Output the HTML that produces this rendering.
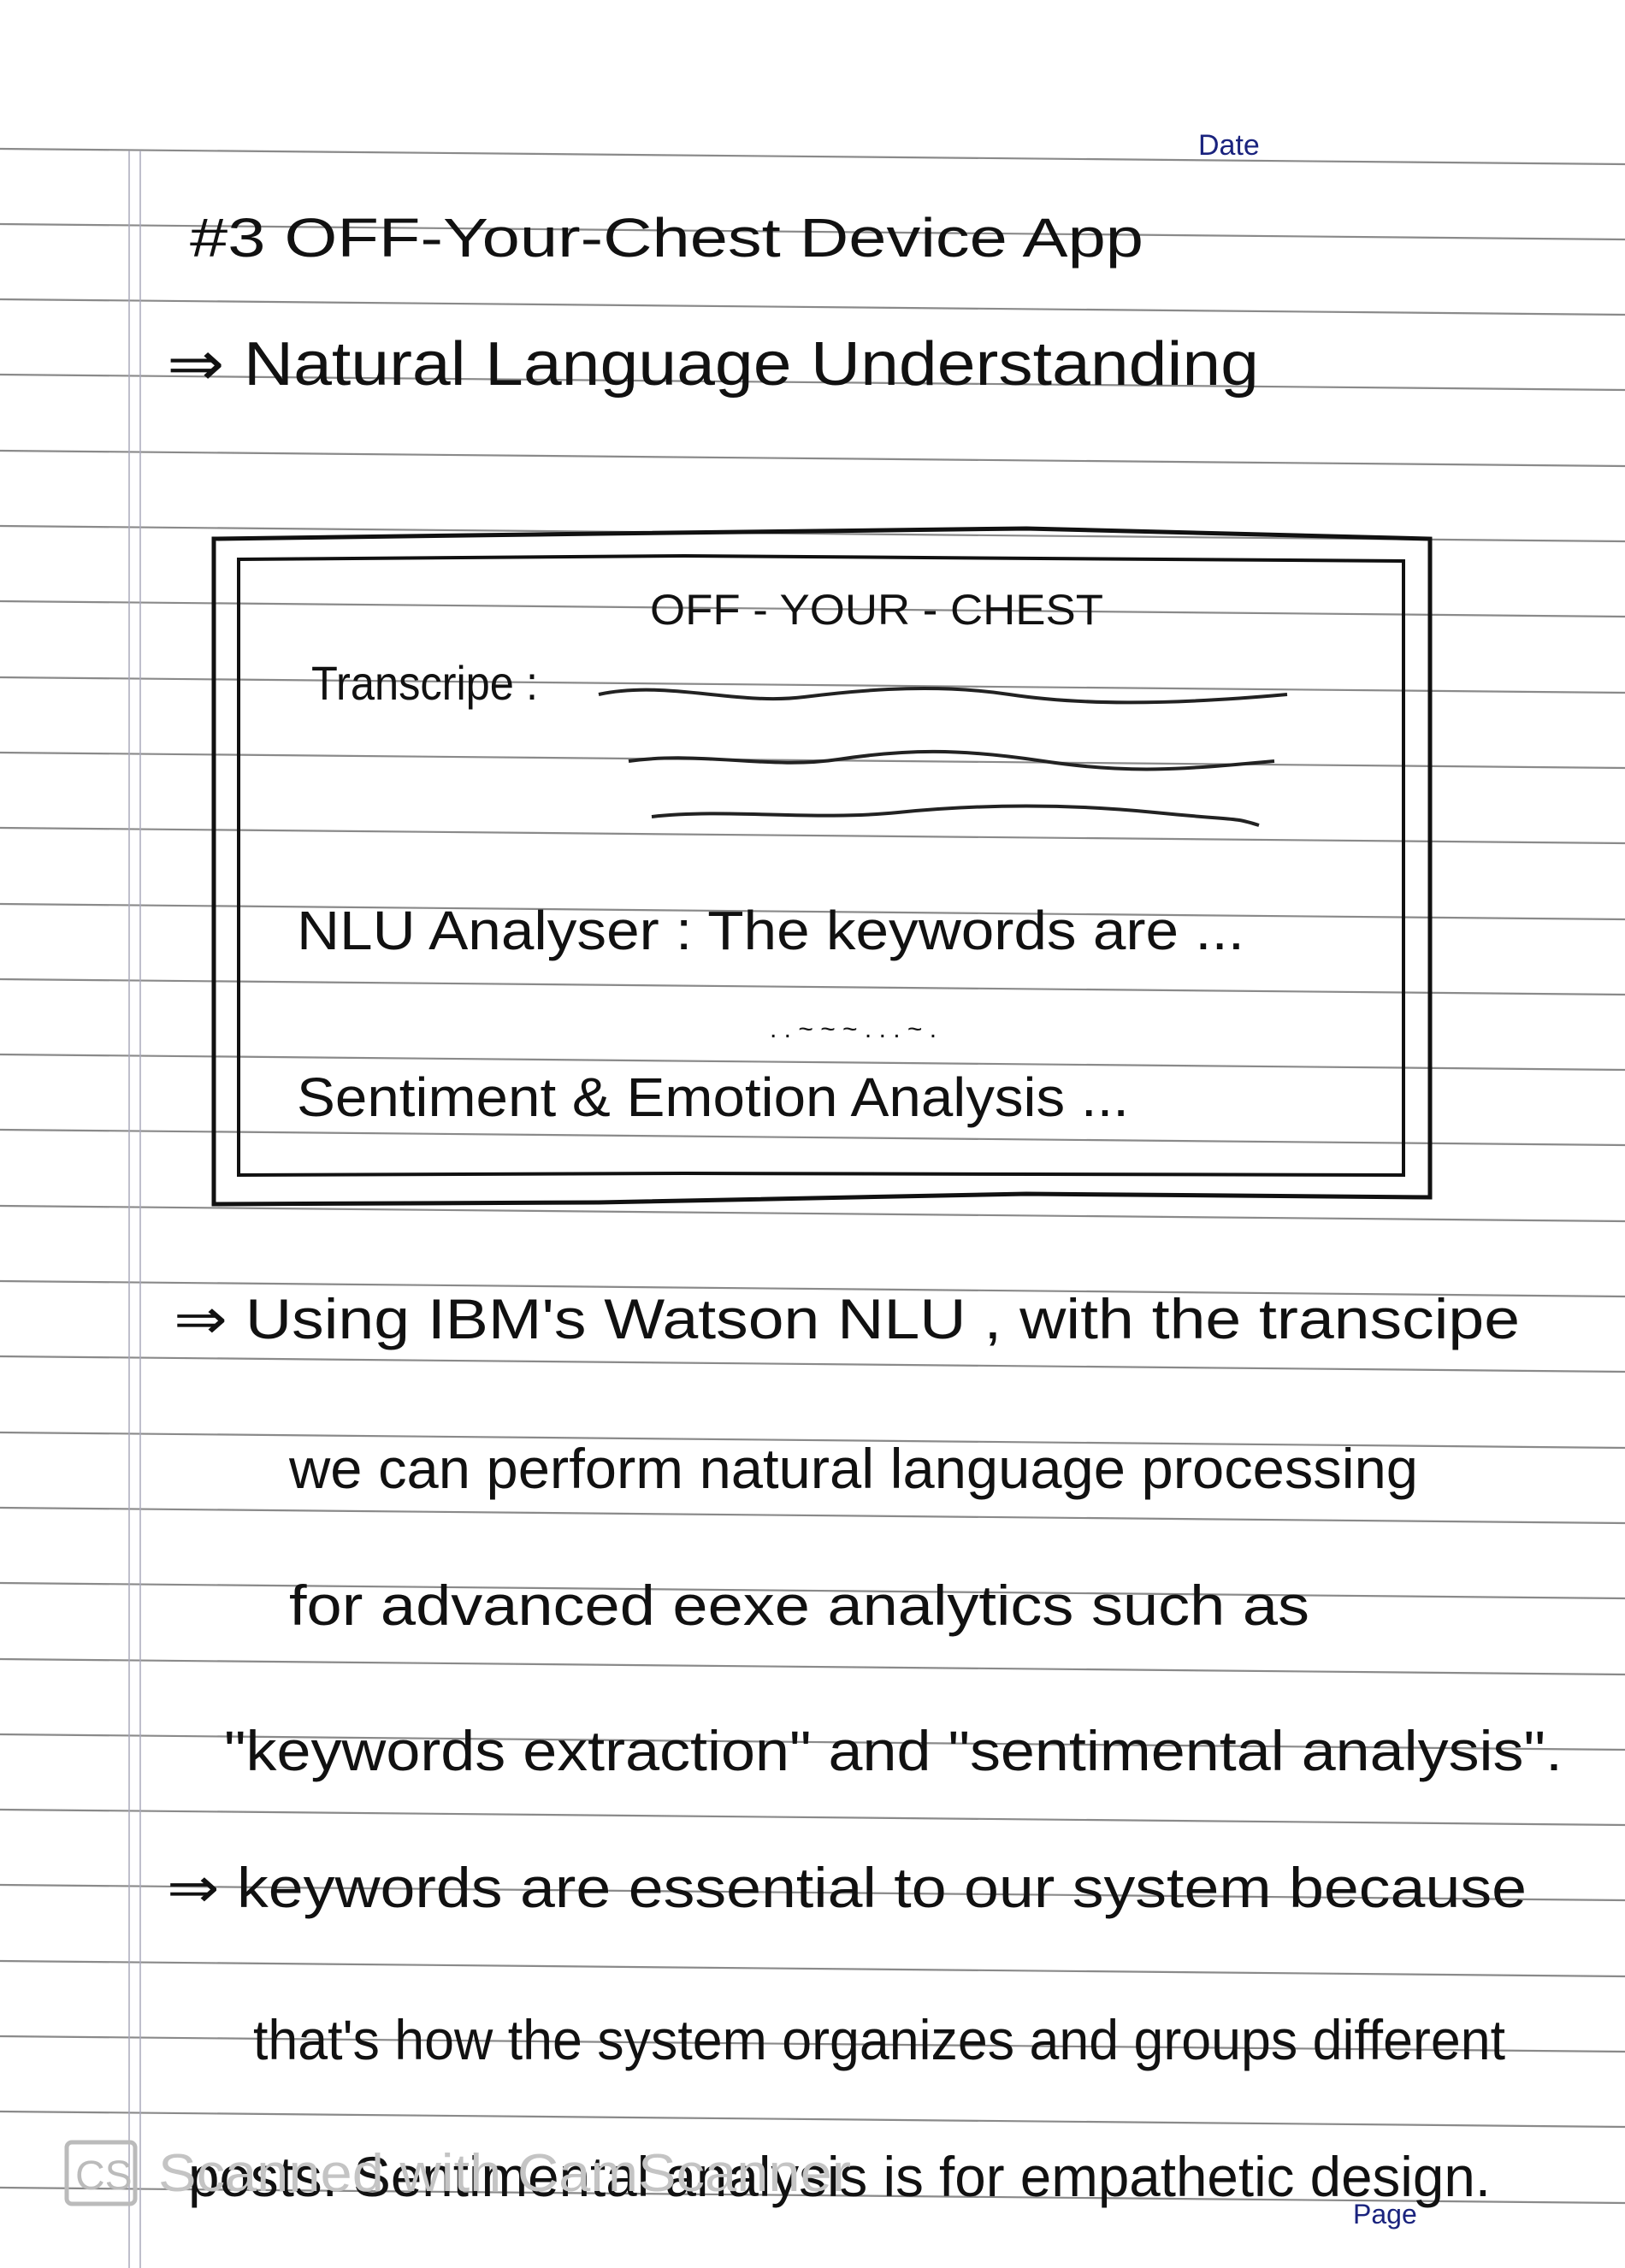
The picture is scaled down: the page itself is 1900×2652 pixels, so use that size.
<!DOCTYPE html>
<html><head><meta charset="utf-8"><style>
html,body{margin:0;padding:0;background:#fff;}
svg{display:block;}
text{font-family:"Liberation Sans",sans-serif;fill:#111;}
</style></head><body>
<svg width="1900" height="2652" viewBox="0 0 1900 2652" xmlns="http://www.w3.org/2000/svg">
<rect width="1900" height="2652" fill="#fff"/>
<g stroke="#8a8a8a" stroke-width="2.2">
<line x1="0" y1="174" x2="1900" y2="192"/>
<line x1="0" y1="262" x2="1900" y2="280"/>
<line x1="0" y1="350" x2="1900" y2="368"/>
<line x1="0" y1="438" x2="1900" y2="456"/>
<line x1="0" y1="527" x2="1900" y2="545"/>
<line x1="0" y1="615" x2="1900" y2="633"/>
<line x1="0" y1="703" x2="1900" y2="721"/>
<line x1="0" y1="792" x2="1900" y2="810"/>
<line x1="0" y1="880" x2="1900" y2="898"/>
<line x1="0" y1="968" x2="1900" y2="986"/>
<line x1="0" y1="1057" x2="1900" y2="1075"/>
<line x1="0" y1="1145" x2="1900" y2="1163"/>
<line x1="0" y1="1233" x2="1900" y2="1251"/>
<line x1="0" y1="1321" x2="1900" y2="1339"/>
<line x1="0" y1="1410" x2="1900" y2="1428"/>
<line x1="0" y1="1498" x2="1900" y2="1516"/>
<line x1="0" y1="1586" x2="1900" y2="1604"/>
<line x1="0" y1="1675" x2="1900" y2="1693"/>
<line x1="0" y1="1763" x2="1900" y2="1781"/>
<line x1="0" y1="1851" x2="1900" y2="1869"/>
<line x1="0" y1="1940" x2="1900" y2="1958"/>
<line x1="0" y1="2028" x2="1900" y2="2046"/>
<line x1="0" y1="2116" x2="1900" y2="2134"/>
<line x1="0" y1="2204" x2="1900" y2="2222"/>
<line x1="0" y1="2293" x2="1900" y2="2311"/>
<line x1="0" y1="2381" x2="1900" y2="2399"/>
<line x1="0" y1="2469" x2="1900" y2="2487"/>
<line x1="0" y1="2558" x2="1900" y2="2576"/>
</g>
<g stroke="#aab" stroke-width="1.5">
<line x1="151" y1="176" x2="151" y2="2652"/>
<line x1="164" y1="176" x2="164" y2="2652"/>
</g>
<text x="1401" y="181" font-size="34" style="fill:#1a237e">Date</text>

<text x="222" y="300" font-size="64" textLength="1115" lengthAdjust="spacingAndGlyphs">#3  OFF-Your-Chest  Device  App</text>
<text x="195" y="450" font-size="72" textLength="1277" lengthAdjust="spacingAndGlyphs">⇒ Natural  Language  Understanding</text>

<g fill="none" stroke="#111" stroke-width="5">
<path d="M250 630 L700 624 L1200 618 L1672 630 L1672 1400 L1200 1396 L700 1406 L250 1408 Z"/>
<path d="M279 654 L800 650 L1641 656 L1641 1374 L800 1372 L279 1374 Z" stroke-width="4"/>
</g>
<text x="760" y="730" font-size="50" textLength="530" lengthAdjust="spacingAndGlyphs">OFF - YOUR - CHEST</text>
<text x="364" y="818" font-size="56" textLength="265" lengthAdjust="spacingAndGlyphs">Transcripe :</text>
<g fill="none" stroke="#222" stroke-width="4">
<path d="M700 812 C780 795 860 825 940 815 S1100 800 1180 812 S1360 825 1505 812"/>
<path d="M735 890 C820 878 900 900 980 888 S1120 875 1220 890 S1380 900 1490 890"/>
<path d="M762 955 C850 945 950 960 1050 950 S1250 940 1350 950 S1440 955 1472 965"/>
</g>
<text x="347" y="1110" font-size="64" textLength="1108" lengthAdjust="spacingAndGlyphs">NLU Analyser :  The  keywords  are  ...</text>
<text x="900" y="1213" font-size="30" fill="#555">. . ~ ~ ~         . . . ~ .</text>
<text x="347" y="1305" font-size="64" textLength="973" lengthAdjust="spacingAndGlyphs">Sentiment &amp; Emotion  Analysis ...</text>

<text x="203" y="1565" font-size="66" textLength="1574" lengthAdjust="spacingAndGlyphs">⇒ Using  IBM's  Watson  NLU ,  with  the  transcipe</text>
<text x="338" y="1740" font-size="66" textLength="1320" lengthAdjust="spacingAndGlyphs">we  can  perform  natural  language  processing</text>
<text x="338" y="1900" font-size="66" textLength="1193" lengthAdjust="spacingAndGlyphs">for  advanced  eexe  analytics  such  as</text>
<text x="262" y="2070" font-size="66" textLength="1565" lengthAdjust="spacingAndGlyphs">"keywords  extraction"  and  "sentimental  analysis".</text>
<text x="195" y="2230" font-size="66" textLength="1590" lengthAdjust="spacingAndGlyphs">⇒ keywords  are  essential  to  our  system  because</text>
<text x="296" y="2408" font-size="66" textLength="1464" lengthAdjust="spacingAndGlyphs">that's  how  the  system  organizes  and  groups  different</text>
<text x="220" y="2568" font-size="66" textLength="1523" lengthAdjust="spacingAndGlyphs">posts.  Sentimental  analysis  is  for  empathetic  design.</text>

<rect x="78" y="2505" width="80" height="72" rx="6" fill="none" stroke="#bbb" stroke-width="5"/>
<text x="88" y="2560" font-size="48" style="fill:#bbb">CS</text>
<text x="185" y="2562" font-size="62" style="fill:#c4c4c4" textLength="810" lengthAdjust="spacingAndGlyphs">Scanned with CamScanner</text>
<text x="1582" y="2600" font-size="32" style="fill:#1a237e">Page</text>
</svg>
</body></html>
